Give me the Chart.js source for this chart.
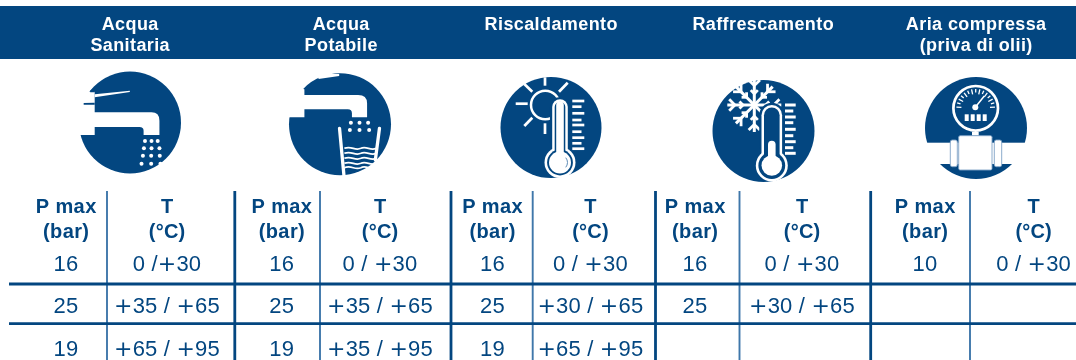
<!DOCTYPE html>
<html><head><meta charset="utf-8">
<style>html,body{margin:0;padding:0;background:#fff}canvas{display:block}</style>
<script src="https://cdn.jsdelivr.net/npm/chart.js@4"></script>
</head><body><canvas id="c" width="1076" height="360"></canvas>
<script>
const categories = [["Acqua","Sanitaria"],["Acqua","Potabile"],["Riscaldamento"],["Raffrescamento"],["Aria compressa","(priva di olii)"]];
const pressureHead = ["P max","(bar)"];
const tempHead = ["T","(°C)"];
const pressures = [["16","25","19"],["16","25","19"],["16","25","19"],["16","25",""],["10","",""]];
const temperatures = [
  ["0 /+30","+35 / +65","+65 / +95"],
  ["0 / +30","+35 / +65","+35 / +95"],
  ["0 / +30","+30 / +65","+65 / +95"],
  ["0 / +30","+30 / +65",""],
  ["0 / +30","",""]
];

const BLUE="#034680", THIN="#3f77aa";
const headCx=[130,341,551,763,976], pCx=[66,281.7,492.4,695,925], tCx=[167,380,590.4,802,1033.6];
const rowBase=[271,313.3,356];
const thickV=[234.8,451,655.5,870.7], thinV=[107,320,532.7,739.5,970];
const rulesH=[284,323.7];
const discs=[{x:130,y:122.5,r:51},{x:340,y:124.2,r:51},{x:551,y:127.5,r:50.5},{x:763.5,y:131,r:51},{x:976,y:128,r:51}];

const line=(pts,color,w)=>({type:'line',data:pts,borderColor:color,borderWidth:w,pointRadius:0,borderCapStyle:'butt',fill:false,tension:0,clip:false});
const datasets=[
  line([{x:0,y:32.5},{x:1076,y:32.5}],BLUE,53),
  ...rulesH.map(y=>line([{x:9,y},{x:1076,y}],BLUE,2.8)),
  ...thinV.map(x=>line([{x,y:191},{x,y:360}],THIN,1.9)),
  ...thickV.map(x=>line([{x,y:191},{x,y:360}],BLUE,2.8)),
  {type:'bubble',data:discs,backgroundColor:BLUE,borderWidth:0,radius:c=>c.raw.r,clip:false}
];

const W="#fff";
function poly(ctx,pts,fill){ctx.beginPath();pts.forEach((p,i)=>i?ctx.lineTo(p[0],p[1]):ctx.moveTo(p[0],p[1]));ctx.closePath();ctx.fillStyle=fill;ctx.fill();}
function seg(ctx,a,b,c,d,w,col){ctx.beginPath();ctx.moveTo(a,b);ctx.lineTo(c,d);ctx.lineWidth=w;ctx.strokeStyle=col||W;ctx.stroke();}
function dot(ctx,x,y,r,col){ctx.beginPath();ctx.arc(x,y,r,0,Math.PI*2);ctx.fillStyle=col||W;ctx.fill();}
const zx=v=>v/2.904, zy=v=>v/3;

function faucet1(ctx){
  ctx.beginPath();
  ctx.moveTo(zx(225),zy(275));ctx.lineTo(zx(275),zy(275));ctx.lineTo(zx(275),zy(337));ctx.lineTo(zx(440),zy(337));
  ctx.quadraticCurveTo(zx(463),zy(337),zx(463),zy(362));ctx.lineTo(zx(463),zy(405));ctx.lineTo(zx(417),zy(405));ctx.lineTo(zx(417),zy(392));
  ctx.quadraticCurveTo(zx(417),zy(381),zx(405),zy(381));ctx.lineTo(zx(275),zy(381));ctx.lineTo(zx(275),zy(405));ctx.lineTo(zx(225),zy(405));ctx.closePath();
  ctx.fillStyle=W;ctx.fill();
  poly(ctx,[[zx(243),zy(309)],[zx(275),zy(308)],[zx(275),zy(314)],[zx(243),zy(314)]],BLUE);
  poly(ctx,[[zx(262),zy(272)],[zx(275),zy(262)],[zx(275),zy(277)],[zx(262),zy(277)]],BLUE);
  poly(ctx,[[zx(275),zy(283)],[zx(377),zy(272)],[zx(377),zy(276)],[zx(275),zy(292)]],W);
  [[[421,440,458],423],[[418,440,463],445],[[415,439,464],467],[[411,439,466],491]].forEach(([xs,y])=>xs.forEach(x=>dot(ctx,zx(x),zy(y),2)));
}
function faucet2(ctx){
  ctx.beginPath();
  ctx.moveTo(zx(830),zy(255));ctx.lineTo(zx(884),zy(268));ctx.lineTo(zx(884),zy(285));ctx.lineTo(zx(1040),zy(285));
  ctx.quadraticCurveTo(zx(1066),zy(285),zx(1066),zy(310));ctx.lineTo(zx(1066),zy(352));ctx.lineTo(zx(1022),zy(352));ctx.lineTo(zx(1022),zy(340));
  ctx.quadraticCurveTo(zx(1022),zy(328),zx(1010),zy(328));ctx.lineTo(zx(884),zy(328));ctx.lineTo(zx(884),zy(352));ctx.lineTo(zx(830),zy(352));ctx.closePath();
  ctx.fillStyle=W;ctx.fill();
  poly(ctx,[[zx(925),zy(237)],[zx(985),zy(228)],[zx(985),zy(222)],[zx(925),zy(222)]],W);
  [[[1019,1044,1069],368],[[1016,1044,1072],390]].forEach(([xs,y])=>xs.forEach(x=>dot(ctx,zx(x),zy(y),2)));
  ctx.lineCap='round';
  seg(ctx,zx(986),zy(385),zx(999),zy(528),3.3);
  seg(ctx,zx(1102),zy(385),zx(1090),zy(480),3.3);
  ctx.lineCap='butt';
  [445,460,475,490,503].forEach(y=>{
    ctx.beginPath();ctx.moveTo(zx(1000),zy(y));
    ctx.bezierCurveTo(zx(1022),zy(y-9),zx(1030),zy(y+9),zx(1048),zy(y));
    ctx.bezierCurveTo(zx(1064),zy(y-9),zx(1076),zy(y+9),zx(1092),zy(y));
    ctx.lineWidth=1.7;ctx.strokeStyle=W;ctx.stroke();
  });
}
function thermo(ctx,cx,top,by,R,o){
  ctx.lineCap='round';
  if(o.halo) seg(ctx,cx,top+o.tube,cx,by-20,o.tube*2+4.5,BLUE);
  seg(ctx,cx,top+o.tube,cx,by,o.tube*2);
  dot(ctx,cx,by,R);
  seg(ctx,cx,top+o.tube,cx,by,o.tube*2-5,BLUE);
  dot(ctx,cx,by,R-2.6,BLUE);
  dot(ctx,cx,by,o.core);
  ctx.beginPath();ctx.moveTo(cx,by);ctx.lineTo(cx,o.hot);ctx.lineWidth=7.6;ctx.strokeStyle=W;ctx.stroke();
  ctx.lineCap='butt';
}
function sun(ctx){
  ctx.beginPath();ctx.arc(545.3,105,14.3,0,Math.PI*2);ctx.lineWidth=2.5;ctx.strokeStyle=W;ctx.stroke();
  [[515.7,103.7,527.7,103.7],[524.3,84,532.3,91.7],[524.3,126,532.3,117.7],[545,77.3,545,85.7],[559,91.7,567.7,82.7],[545,123.3,545,134]]
    .forEach(r=>seg(ctx,r[0],r[1],r[2],r[3],2.7));
  thermo(ctx,560,99.3,162.5,15.5,{tube:7.8,core:11,hot:105,halo:true});
  ctx.beginPath();ctx.arc(560,162.5,7.5,-0.7,0.7);ctx.lineWidth=1;ctx.strokeStyle="#5f8db8";ctx.stroke();
  [[101,1],[106.7,0],[113.3,1],[120,0],[125,1],[131.7,0],[137.7,1],[143.3,0],[148.7,1]].forEach(([y,l])=>seg(ctx,572.3,y,l?584.3:581.5,y,2.7));
}
function snow(ctx){
  const cx=754.3,cy=105;
  for(let i=0;i<8;i++){
    const a=i*Math.PI/4, ux=Math.cos(a), uy=Math.sin(a);
    const L=(i%2)?26:27;
    seg(ctx,cx,cy,cx+ux*L,cy+uy*L,3);
    [[0.72,8],[0.42,5]].forEach(([t,b])=>{
      const bx=cx+ux*L*t,by=cy+uy*L*t;
      [-1,1].forEach(s=>{const ang=a+s*Math.PI/4;seg(ctx,bx,by,bx+Math.cos(ang)*b,by+Math.sin(ang)*b,2.8);});
    });
  }
  thermo(ctx,771.8,105,165.5,16,{tube:10.3,core:10.3,hot:144.5,halo:true});
  [[105,1],[111,0],[117,1],[122.7,0],[129.3,1],[135.7,0],[141.7,1],[147.7,0],[153.3,1]].forEach(([y,l])=>seg(ctx,785,y,l?795.7:793.3,y,3));
}
function gauge(ctx){
  const cx=975.7,cy=108.3;
  ctx.fillStyle=W;ctx.fillRect(915,142.7,122,21.3);
  ctx.beginPath();ctx.arc(cx,cy,22.3,0,Math.PI*2);ctx.lineWidth=2.7;ctx.strokeStyle=W;ctx.stroke();
  for(let i=0;i<=14;i++){
    const a=Math.PI*(1.02+i*0.96/14), l=i%2?3.5:5, R=19.3;
    seg(ctx,cx+Math.cos(a)*R,cy+Math.sin(a)*R,cx+Math.cos(a)*(R-l),cy+Math.sin(a)*(R-l),1.3);
  }
  seg(ctx,975.3,107.3,984.3,96,1.5);dot(ctx,975.3,107.3,3);
  [964.7,970.7,976.7,982.7].forEach(x=>{ctx.fillStyle=W;ctx.fillRect(x,114.3,4,6.7);});
  ctx.fillStyle=W;ctx.fillRect(972,131.7,6.7,4);
  const rr=(x,y,w,h,r,sc)=>{ctx.beginPath();ctx.roundRect(x,y,w,h,r);ctx.fillStyle=W;ctx.fill();ctx.lineWidth=0.9;ctx.strokeStyle=sc;ctx.stroke();};
  rr(950.3,140,7,26.7,2,"#7fa3c6");
  rr(994.3,140,7.4,26.7,2,"#7fa3c6");
  rr(958.7,135.7,33.3,34.3,1.5,"#7fa3c6");
}

function drawText(ctx,str,x,y,font,sp){
  ctx.textAlign='center';ctx.font=font;ctx.letterSpacing=sp+"px";ctx.fillText(str,x+sp/2,y);
}
const VF='22px "Liberation Sans"', PF='22px "DejaVu Sans"';
function drawValue(ctx,str,cx,y,sp){
  ctx.textAlign='left';ctx.letterSpacing="0px";
  const chars=[...str];
  const w=chars.map(c=>{ctx.font=c==='+'?PF:VF;return ctx.measureText(c).width+sp;});
  let x=cx-w.reduce((a,b)=>a+b,0)/2;
  chars.forEach((c,i)=>{ctx.font=c==='+'?PF:VF;ctx.fillText(c,x,y);x+=w[i];});
}
const tablePlugin={id:'tablePlugin',afterDatasetsDraw(chart){
  const ctx=chart.ctx,xs=chart.scales.x,ys=chart.scales.y;
  ctx.save();
  ctx.translate(xs.getPixelForValue(0),ys.getPixelForValue(0));
  faucet1(ctx);faucet2(ctx);sun(ctx);snow(ctx);gauge(ctx);
  ctx.textBaseline='alphabetic';
  const HF='bold 18px "Liberation Sans"',TH='bold 20px "Liberation Sans"';
  ctx.fillStyle="#fff";
  categories.forEach((lines,i)=>lines.forEach((s,j)=>drawText(ctx,s,headCx[i],j?51:30,HF,0.4)));
  ctx.fillStyle=BLUE;
  categories.forEach((_,i)=>{
    pressureHead.forEach((s,j)=>drawText(ctx,s,pCx[i],j?238:213.3,TH,0.4));
    tempHead.forEach((s,j)=>drawText(ctx,s,tCx[i],j?238:213.3,TH,0.2));
    pressures[i].forEach((s,r)=>{if(s)drawValue(ctx,s,pCx[i],rowBase[r],0.2);});
    temperatures[i].forEach((s,r)=>{if(s)drawValue(ctx,s,tCx[i],rowBase[r],0.2);});
  });
  ctx.restore();
}};

new Chart(document.getElementById('c'),{
  type:'scatter',
  data:{datasets},
  plugins:[tablePlugin],
  options:{
    responsive:false,animation:false,devicePixelRatio:1,
    layout:{padding:0,autoPadding:false},
    plugins:{legend:{display:false},tooltip:{enabled:false}},
    events:[],
    scales:{
      x:{type:'linear',min:0,max:1076,display:false},
      y:{type:'linear',min:0,max:360,reverse:true,display:false}
    }
  }
});
</script></body></html>
